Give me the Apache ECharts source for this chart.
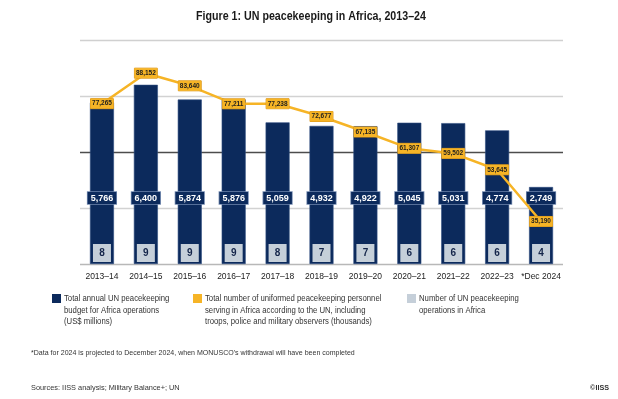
<!DOCTYPE html>
<html>
<head>
<meta charset="utf-8">
<script src="https://cdn.jsdelivr.net/npm/echarts@6/dist/echarts.min.js"></script>
<style>
	html, body { margin: 0; padding: 0; background: #fff; }
	#chart { width: 618px; height: 399px; }
</style>
</head>
<body>
<div id="chart"></div>
<script>
var categories = ['2013–14', '2014–15', '2015–16', '2016–17', '2017–18', '2018–19', '2019–20', '2020–21', '2021–22', '2022–23', '*Dec 2024'];
// US$ millions
var budget = [5766, 6400, 5874, 5876, 5059, 4932, 4922, 5045, 5031, 4774, 2749];
// uniformed personnel
var personnel = [77265, 88152, 83640, 77211, 77238, 72677, 67135, 61307, 59502, 53645, 35190];
// number of operations
var operations = [8, 9, 9, 9, 8, 7, 7, 6, 6, 6, 4];

var FONT = '"Liberation Sans", Arial, sans-serif';
var NAVY = '#0c2a5c';
var GOLD = '#f6b426';
var GREY = '#c5cfd9';

function fmt(v) {
	return v.toString().replace(/\B(?=(\d{3})+(?!\d))/g, ',');
}

// narrow-ish text for the notes (the original uses a condensed face)
function note(x, y, text, size, opts) {
	opts = opts || {};
	return {
		type: 'text',
		x: x,
		y: y,
		scaleX: opts.scaleX || 0.86,
		style: {
			text: text,
			font: (opts.bold ? 'bold ' : '') + size + 'px ' + FONT,
			fill: opts.color || '#333',
			lineHeight: opts.lineHeight || size * 1.3,
			align: opts.align || 'left',
			verticalAlign: 'top'
		}
	};
}

function renderChart(ele) {
	var dom = document.getElementById(ele);
	var myChart = echarts.init(dom, null, { renderer: 'canvas' });

	var option = {
		animation: false,
		textStyle: { fontFamily: FONT },
		grid: { left: 80, right: 55, top: 40, bottom: 135 },
		xAxis: {
			type: 'category',
			data: categories,
			axisLine: { show: false },
			axisTick: { show: false },
			axisLabel: { interval: 0, margin: 8, fontSize: 8.5, color: '#222', fontFamily: FONT }
		},
		yAxis: [{
			type: 'value',
			min: 0,
			max: 8000,
			interval: 2000,
			axisLabel: { show: false },
			axisLine: { show: false },
			axisTick: { show: false },
			splitLine: {
				lineStyle: {
					color: ['#b8b8b8', '#d2d2d2', '#4d4d4d', '#d2d2d2', '#d0d0d0'],
					width: 1.3
				}
			}
		}, {
			type: 'value',
			min: 20000,
			max: 100000,
			interval: 20000,
			show: false,
			splitLine: { show: false }
		}],
		series: [{
			name: 'budget',
			type: 'bar',
			data: budget,
			barWidth: 24,
			itemStyle: { color: NAVY, borderColor: '#2f4d80', borderWidth: 0.6 },
			label: {
				show: true,
				position: 'insideBottom',
				distance: 60,
				formatter: function(p) { return fmt(p.value); },
				color: '#fff',
				fontSize: 9,
				fontWeight: 'bold',
				fontFamily: FONT,
				backgroundColor: NAVY,
				borderColor: '#6f86ad',
				borderWidth: 0.8,
				padding: [2, 3, 1, 3]
			},
			z: 2
		}, {
			name: 'operations',
			type: 'custom',
			data: operations.map(function(v, i) { return [i, v]; }),
			encode: { x: 0, y: 1 },
			renderItem: function(params, api) {
				var pt = api.coord([api.value(0), 0]);
				return {
					type: 'group',
					children: [{
						type: 'rect',
						shape: { x: pt[0] - 9, y: pt[1] - 20, width: 18, height: 18 },
						style: { fill: GREY }
					}, {
						type: 'text',
						x: pt[0],
						y: pt[1] - 11,
						style: {
							text: String(api.value(1)),
							fill: '#14254a',
							font: 'bold 10px ' + FONT,
							align: 'center',
							verticalAlign: 'middle'
						}
					}]
				};
			},
			z: 3
		}, {
			name: 'personnel',
			type: 'line',
			yAxisIndex: 1,
			data: personnel,
			symbol: 'circle',
			symbolSize: 2,
			itemStyle: { color: GOLD },
			lineStyle: { color: GOLD, width: 2.5 },
			label: {
				show: true,
				position: 'inside',
				formatter: function(p) { return fmt(p.value); },
				color: '#1e1e1e',
				fontSize: 6.5,
				fontWeight: 'bold',
				fontFamily: FONT,
				backgroundColor: GOLD,
				borderColor: '#d9951a',
				borderWidth: 0.5,
				padding: [2, 1.5, 1, 1.5]
			},
			z: 4
		}],
		graphic: [
			note(311, 8, 'Figure 1: UN peacekeeping in Africa, 2013–24', 13, { bold: true, align: 'center', scaleX: 0.82, color: '#1a1a1a' }),
			{ type: 'rect', x: 52, y: 294, shape: { width: 9, height: 9 }, style: { fill: NAVY } },
			note(64, 293, 'Total annual UN peacekeeping\nbudget for Africa operations\n(US$ millions)', 9, { lineHeight: 11.5 }),
			{ type: 'rect', x: 193, y: 294, shape: { width: 9, height: 9 }, style: { fill: GOLD } },
			note(205, 293, 'Total number of uniformed peacekeeping personnel\nserving in Africa according to the UN, including\ntroops, police and military observers (thousands)', 9, { lineHeight: 11.5 }),
			{ type: 'rect', x: 407, y: 294, shape: { width: 9, height: 9 }, style: { fill: GREY } },
			note(419, 293, 'Number of UN peacekeeping\noperations in Africa', 9, { lineHeight: 11.5 }),
			note(31, 348, '*Data for 2024 is projected to December 2024, when MONUSCO\'s withdrawal will have been completed', 8, { scaleX: 0.88 }),
			note(31, 383, 'Sources: IISS analysis; Military Balance+; UN', 8, { scaleX: 0.92 }),
			note(609, 383, '©IISS', 8, { bold: true, align: 'right', scaleX: 0.9 })
		]
	};

	myChart.setOption(option);

	window.addEventListener('resize', function() {
		myChart.resize();
	});
}

renderChart('chart');
</script>
</body>
</html>
